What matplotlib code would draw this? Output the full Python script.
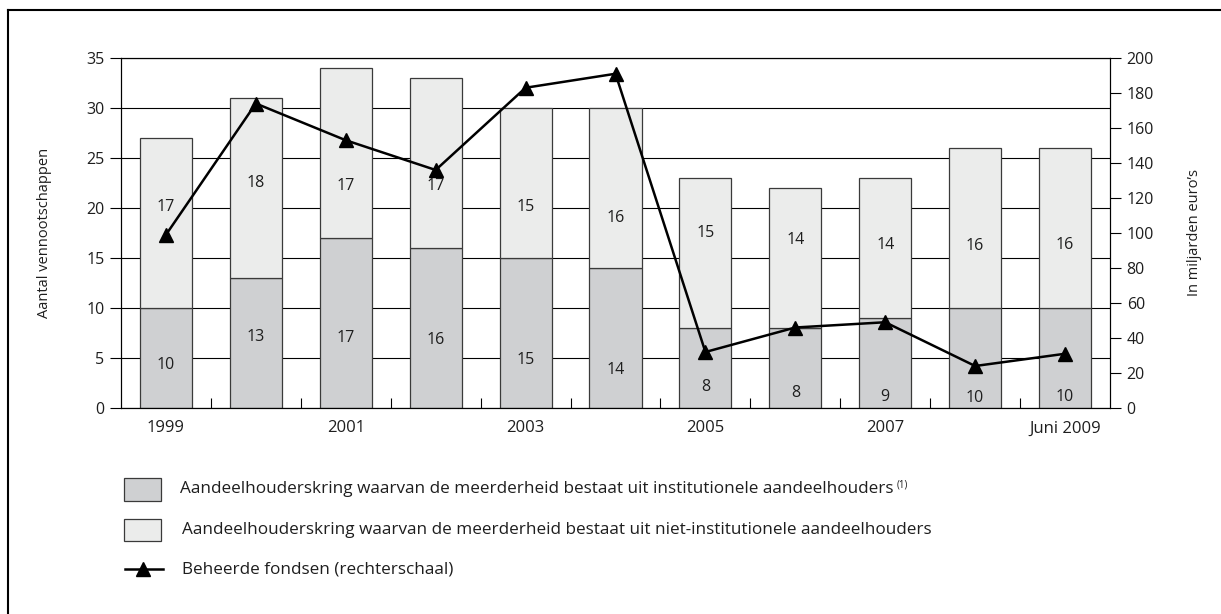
import numpy as np
import matplotlib.pyplot as plt
from matplotlib.patches import Rectangle
from matplotlib.lines import Line2D

# data
jaren = ['1999', '2000', '2001', '2002', '2003', '2004', '2005', '2006', '2007', '2008', 'Juni 2009']
institutioneel = [10, 13, 17, 16, 15, 14, 8, 8, 9, 10, 10]
niet_institutioneel = [17, 18, 17, 17, 15, 16, 15, 14, 14, 16, 16]
fondsen = [99, 174, 153, 136, 183, 191, 32, 46, 49, 24, 31]  # miljarden euro, rechterschaal

# hoogte (linkerschaal) waarop de getallen in de staven staan
label_y_onder = [4.3, 7.1, 7.0, 6.8, 4.8, 3.8, 2.1, 1.5, 1.1, 1.0, 1.1]
label_y_boven = [20.1, 22.5, 22.2, 22.2, 20.1, 19.0, 17.5, 16.8, 16.3, 16.2, 16.3]

legenda = ['Aandeelhouderskring waarvan de meerderheid bestaat uit institutionele aandeelhouders',
           'Aandeelhouderskring waarvan de meerderheid bestaat uit niet-institutionele aandeelhouders',
           'Beheerde fondsen (rechterschaal)']

plt.rcParams['font.family'] = ['Open Sans', 'DejaVu Sans']

W, H = 1221, 614
fx = lambda px: px / W
fy = lambda py: 1 - py / H

kleur_onder = '#cfd0d2'
kleur_boven = '#ebeceb'
rand = '#3a3a3a'
tekst = '#1e1e1e'

fig = plt.figure(figsize=(W / 100, H / 100), dpi=100)
ax = fig.add_axes([fx(121), fy(408), (1110 - 121) / W, (408 - 58) / H])

x = np.arange(len(jaren))
ax.bar(x, institutioneel, width=0.58, color=kleur_onder, edgecolor=rand, linewidth=0.9, zorder=2)
ax.bar(x, niet_institutioneel, bottom=institutioneel, width=0.58, color=kleur_boven,
       edgecolor=rand, linewidth=0.9, zorder=2)

for i in range(len(jaren)):
    ax.text(x[i], label_y_onder[i], str(institutioneel[i]), ha='center', va='center',
            fontsize=11.5, color=tekst, zorder=3)
    ax.text(x[i], label_y_boven[i], str(niet_institutioneel[i]), ha='center', va='center',
            fontsize=11.5, color=tekst, zorder=3)

ax.set_xlim(-0.5, len(jaren) - 0.5)
ax.set_ylim(0, 35)
ax.set_yticks(range(0, 36, 5))
ax.yaxis.grid(True, color='black', linewidth=0.8)
ax.set_axisbelow(True)
ax.set_xticks(x[::2])
ax.set_xticklabels(jaren[::2])
ax.set_xticks(x[:-1] + 0.5, minor=True)
ax.tick_params(axis='x', which='major', length=0, pad=9, labelsize=12, labelcolor=tekst)
ax.tick_params(axis='x', which='minor', direction='in', length=7.5, width=0.8)
ax.tick_params(axis='y', length=8, width=0.8, labelsize=11.5, pad=4, labelcolor=tekst)
for s in ax.spines.values():
    s.set_linewidth(0.8)
ax.set_ylabel('Aantal vennootschappen', fontsize=10.5, color=tekst)
ax.yaxis.set_label_coords(-0.0698, 0.5)

# rechterschaal
ax2 = ax.twinx()
ax2.plot(x, fondsen, color='black', linewidth=1.8, marker='^', markersize=10, zorder=3)
ax2.set_ylim(0, 200)
ax2.set_yticks(range(0, 201, 20))
ax2.tick_params(axis='y', length=8, width=0.8, labelsize=11.5, pad=4, labelcolor=tekst)
for s in ax2.spines.values():
    s.set_linewidth(0.8)
ax2.set_ylabel('In miljarden euro\u2019s', fontsize=10.5, color=tekst)
ax2.yaxis.set_label_coords(1.078, 0.5)

# legenda
fig.add_artist(Rectangle((fx(124), fy(501)), 37 / W, 23 / H, transform=fig.transFigure,
                         facecolor=kleur_onder, edgecolor=rand, linewidth=0.9))
fig.add_artist(Rectangle((fx(124), fy(541)), 37 / W, 22 / H, transform=fig.transFigure,
                         facecolor=kleur_boven, edgecolor=rand, linewidth=0.9))
fig.add_artist(Line2D([fx(125), fx(163)], [fy(569), fy(569)], color='black', linewidth=1.8))
fig.add_artist(Line2D([fx(143)], [fy(569)], color='black', marker='^', markersize=10))

lfont = dict(fontsize=12.3, va='center', ha='left', color=tekst)
t1 = fig.text(fx(180), fy(489), legenda[0], **lfont)
fig.text(fx(182), fy(530), legenda[1], **lfont)
fig.text(fx(182), fy(569), legenda[2], **lfont)

fig.canvas.draw()
bb = t1.get_window_extent()
fig.text((bb.x1 + 3) / W, fy(485), '(1)', fontsize=7, va='center', ha='left', color=tekst)

# kader
fig.add_artist(Line2D([fx(8), fx(8)], [fy(10), 0], color='black', linewidth=1.5))
fig.add_artist(Line2D([fx(8), 1], [fy(10), fy(10)], color='black', linewidth=1.5))

fig.savefig('out.png', dpi=100)
